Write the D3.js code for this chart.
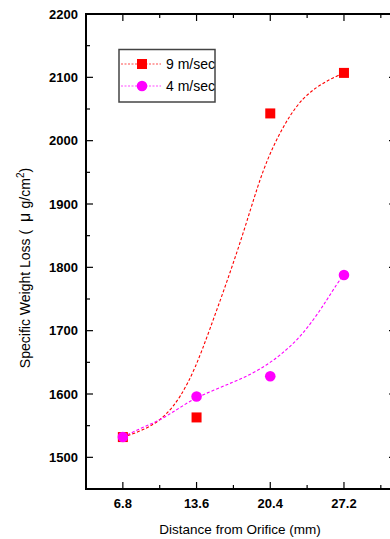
<!DOCTYPE html>
<html>
<head>
<meta charset="utf-8">
<script src="https://cdn.jsdelivr.net/npm/d3@7"></script>
<style>
  html, body { margin: 0; padding: 0; background: #fff; }
  svg { display: block; font-family: "Liberation Sans", Arial, sans-serif; }
  .ytitle { white-space: pre; }
</style>
</head>
<body>
<svg id="chart" width="390" height="539"></svg>
<script>
// Measured specific weight loss at four distances from the orifice
const distances = [6.8, 13.6, 20.4, 27.2];
const loss9 = [1532, 1563, 2043, 2107];   // 9 m/sec
const loss4 = [1532, 1596, 1628, 1788];   // 4 m/sec

// Fitted trend curves (distance, loss)
const fit9X = [6.8, 7.9, 9.3, 10.7, 12.1, 13.5, 14.8, 16.4, 17.9, 19.3, 20.2, 21.1, 22.2, 23.4, 24.7, 25.9, 27.2];
const fit9Y = [1532, 1538, 1548, 1565, 1594, 1641, 1701, 1777, 1853, 1932, 1973, 2006, 2040, 2067, 2085, 2097, 2107];
const fit4X = [6.8, 8.7, 9.9, 11.2, 12.2, 13.5, 15.2, 17.0, 18.5, 20.1, 21.3, 22.9, 24.4, 25.6, 26.6, 27.2];
const fit4Y = [1532, 1548, 1556, 1569, 1580, 1594, 1606, 1619, 1630, 1646, 1661, 1685, 1717, 1748, 1775, 1789];

// Axis ticks
const xMajor = [6.8, 13.6, 20.4, 27.2];
const xMinor = [10.2, 17.0, 23.8, 30.6];
const yMajor = [1500, 1600, 1700, 1800, 1900, 2000, 2100, 2200];
const yMinor = [1550, 1650, 1750, 1850, 1950, 2050, 2150];

const seriesNames = ["9 m/sec", "4 m/sec"];
const seriesColors = ["#ff0000", "#ff00ff"];

const svg = d3.select("#chart");
const plotL = 86, plotR = 396, plotT = 14, plotB = 489;

const x = d3.scaleLinear().domain([3.4, 32.0]).range([plotL, plotR]);
const y = d3.scaleLinear().domain([1450, 2200]).range([plotB, plotT]);

svg.append("rect").attr("width", 390).attr("height", 539).attr("fill", "#fff");

// Frame and inward ticks
const axisColor = "#000";
svg.append("rect")
  .attr("x", plotL).attr("y", plotT)
  .attr("width", plotR - plotL).attr("height", plotB - plotT)
  .attr("fill", "none").attr("stroke", axisColor).attr("stroke-width", 2);

const ticks = svg.append("g").attr("stroke", axisColor).attr("stroke-width", 1.2);
xMajor.forEach(v => {
  ticks.append("line").attr("x1", x(v)).attr("x2", x(v)).attr("y1", plotB).attr("y2", plotB - 7);
  ticks.append("line").attr("x1", x(v)).attr("x2", x(v)).attr("y1", plotT).attr("y2", plotT + 7);
});
xMinor.forEach(v => {
  ticks.append("line").attr("x1", x(v)).attr("x2", x(v)).attr("y1", plotB).attr("y2", plotB - 4);
  ticks.append("line").attr("x1", x(v)).attr("x2", x(v)).attr("y1", plotT).attr("y2", plotT + 4);
});
yMajor.forEach(v => {
  ticks.append("line").attr("y1", y(v)).attr("y2", y(v)).attr("x1", plotL).attr("x2", plotL + 7);
  ticks.append("line").attr("y1", y(v)).attr("y2", y(v)).attr("x1", plotR).attr("x2", plotR - 7);
});
yMinor.forEach(v => {
  ticks.append("line").attr("y1", y(v)).attr("y2", y(v)).attr("x1", plotL).attr("x2", plotL + 4);
  ticks.append("line").attr("y1", y(v)).attr("y2", y(v)).attr("x1", plotR).attr("x2", plotR - 4);
});

// Tick labels
svg.append("g").selectAll("text").data(yMajor).join("text")
  .attr("x", 78).attr("y", d => y(d) + 4.6)
  .attr("text-anchor", "end")
  .attr("font-size", 13).attr("font-weight", "bold")
  .text(d => d);

svg.append("g").selectAll("text").data(xMajor).join("text")
  .attr("x", d => x(d)).attr("y", 508)
  .attr("text-anchor", "middle")
  .attr("font-size", 13).attr("font-weight", "bold")
  .text(d => d.toFixed(1));

// Axis titles
svg.append("text")
  .attr("x", (plotL + plotR) / 2 - 1).attr("y", 534)
  .attr("text-anchor", "middle").attr("font-size", 13.5)
  .text("Distance from Orifice (mm)");

const yt = svg.append("text")
  .attr("class", "ytitle")
  .attr("transform", "translate(30,268) rotate(-90)")
  .attr("text-anchor", "middle").attr("font-size", 14);
yt.append("tspan").text("Specific Weight Loss (  ");
yt.append("tspan").attr("font-size", 16).text("μ ");
yt.append("tspan").text("g/cm");
yt.append("tspan").attr("font-size", 10).attr("dy", -6).text("2");
yt.append("tspan").attr("dy", 6).text(")");

// Fitted curves
const line = d3.line().x(d => x(d[0])).y(d => y(d[1])).curve(d3.curveBasis);
const fits = [d3.zip(fit9X, fit9Y), d3.zip(fit4X, fit4Y)];
fits.forEach((pts, i) => {
  svg.append("path").datum(pts)
    .attr("d", line)
    .attr("fill", "none")
    .attr("stroke", seriesColors[i])
    .attr("stroke-width", 1.1)
    .attr("stroke-dasharray", "3,2");
});

// Markers
const pts9 = d3.zip(distances, loss9);
const pts4 = d3.zip(distances, loss4);
svg.append("g").selectAll("rect").data(pts9).join("rect")
  .attr("x", d => x(d[0]) - 5).attr("y", d => y(d[1]) - 5)
  .attr("width", 10).attr("height", 10)
  .attr("fill", seriesColors[0]);
svg.append("g").selectAll("circle").data(pts4).join("circle")
  .attr("cx", d => x(d[0])).attr("cy", d => y(d[1]))
  .attr("r", 5.3)
  .attr("fill", seriesColors[1]);

// Legend
const lg = svg.append("g");
lg.append("rect")
  .attr("x", 119).attr("y", 49.5).attr("width", 96).attr("height", 52.5)
  .attr("fill", "#fff").attr("stroke", "#444").attr("stroke-width", 1.5);
seriesNames.forEach((name, i) => {
  const cy = 64 + i * 22;
  lg.append("line")
    .attr("x1", 121).attr("x2", 161).attr("y1", cy).attr("y2", cy)
    .attr("stroke", seriesColors[i]).attr("stroke-width", 1.1)
    .attr("stroke-dasharray", "2,1.5").attr("opacity", 0.7);
  if (i === 0) {
    lg.append("rect").attr("x", 137).attr("y", cy - 5).attr("width", 10).attr("height", 10)
      .attr("fill", seriesColors[i]);
  } else {
    lg.append("circle").attr("cx", 142).attr("cy", cy).attr("r", 5.3)
      .attr("fill", seriesColors[i]);
  }
  lg.append("text").attr("x", 166).attr("y", cy + 5)
    .attr("font-size", 14).text(name);
});
</script>
</body>
</html>
